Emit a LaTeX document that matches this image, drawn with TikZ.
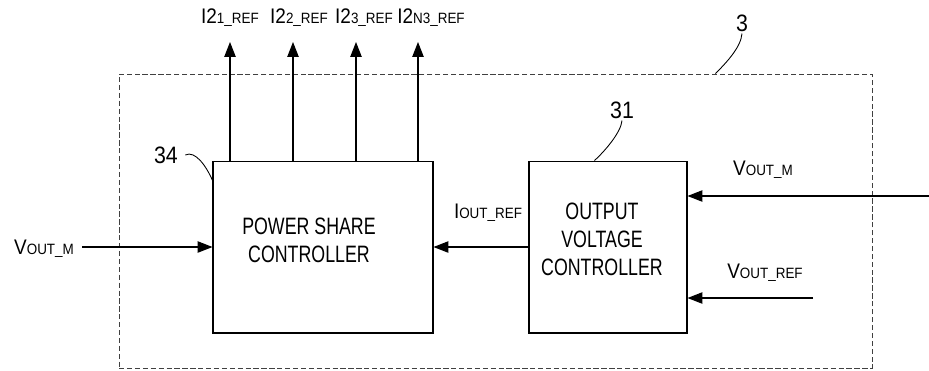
\documentclass[tikz,border=0pt]{standalone}
\usepackage{fontspec}
\setmainfont{Liberation Sans}[FakeStretch=0.9]
\newfontfamily\blockfont{Liberation Sans}[FakeStretch=0.75]
\usetikzlibrary{arrows.meta}

% signal name: big letter(s) + small subscript part
\newcommand{\signame}[2]{{\fontsize{12}{12}\selectfont #1}{\fontsize{8.5}{8.5}\selectfont #2}}

\tikzset{
  block/.style={draw, line width=0.6pt, minimum height=3.44cm},
  blocktext/.style={align=center, inner sep=0pt, font=\blockfont\fontsize{13.5}{16}\selectfont},
  unitbox/.style={draw, black!75, line width=0.5pt, dash pattern=on 3pt off 1.5pt},
  sig/.style={line width=0.6pt, -{Triangle[length=8.5pt,width=6.5pt]}},
  lead/.style={line width=0.5pt},
  refnum/.style={font=\fontsize{13.5}{13.5}\selectfont, inner sep=1pt},
}

\begin{document}
\begin{tikzpicture}[x=0.02cm, y=-0.02cm]
    \useasboundingbox (0,0) rectangle (929,370);
    % dashed unit 3
    \node[unitbox, minimum width=15.06cm, minimum height=5.88cm] (unit) at (495.5,221) {};
    % blocks
    \node[block, minimum width=4.4cm] (psc) at (323,247) {};
    \node[blocktext] (psctext) at (309,240) {POWER SHARE\\CONTROLLER};
    \node[block, minimum width=3.16cm] (ovc) at (608,247) {};
    \node[blocktext] (ovctext) at (602,239) {OUTPUT\\VOLTAGE\\CONTROLLER};
    % outputs on top
    \foreach \x/\lx/\n/\s in {230/230/1/1, 293/299/2/2, 356/364/3/3, 418/431/4/N3} {
        \coordinate (tip\n) at (\x,42);
        \node[inner sep=0pt] (out\n) at (\lx,18) {\signame{I2}{\s\_REF}};
        \draw[sig] (psc.north -| tip\n) -- (tip\n);
    }
    % left input
    \node[inner sep=1pt] (vml) at (44,249) {\signame{V}{OUT\_M}};
    \coordinate (vmlstart) at (82,247);
    \draw[sig] (vmlstart) -- (psc.west);
    % current reference
    \draw[sig] (ovc.west) -- (psc.east);
    \node[inner sep=1pt] (iref) at (488,213) {\signame{I}{OUT\_REF}};
    % right inputs
    \coordinate (vmr) at (929,196);
    \coordinate (vrefr) at (813,298);
    \draw[sig] (vmr) -- (vmr -| ovc.east);
    \draw[sig] (vrefr) -- (vrefr -| ovc.east);
    \node[inner sep=1pt] (vmrlab) at (763,170) {\signame{V}{OUT\_M}};
    \node[inner sep=1pt] (vreflab) at (765,273) {\signame{V}{OUT\_REF}};
    % reference numerals
    \node[refnum] (n3) at (742,23) {3};
    \node[refnum] (n31) at (622,110) {31};
    \node[refnum] (n34) at (166,155) {34};
    \draw[lead] (n3.south) .. controls +(-1,14) and +(10,-10) .. ([xshift=-3.14cm]unit.north east);
    \draw[lead] (n31.south) .. controls +(-1,12) and +(10,-9) .. ([xshift=1.32cm]ovc.north west);
    \draw[lead] ([xshift=3pt]n34.east) .. controls +(10,-5) and +(-6,-14) .. ([yshift=-0.4cm]psc.north west);
\end{tikzpicture}
\end{document}
